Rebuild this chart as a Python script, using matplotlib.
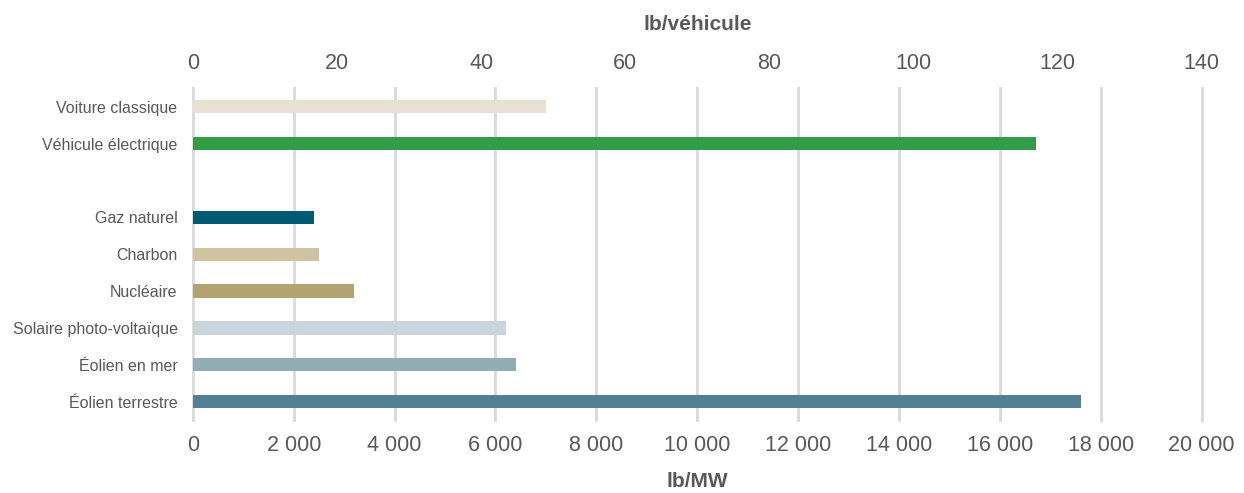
import numpy as np
import matplotlib.pyplot as plt
from matplotlib.ticker import FuncFormatter

plt.rcParams['font.family'] = ['Liberation Sans', 'DejaVu Sans']

# vehicles -> top axis (lb/vehicule)
vehicle_labels = ['Voiture classique', 'Véhicule électrique']
vehicle_values = [49, 117]
vehicle_colors = ['#e8e0d4', '#339c47']

# power sources -> bottom axis (lb/MW)
energy_labels = ['Gaz naturel', 'Charbon', 'Nucléaire', 'Solaire photo-voltaïque',
                 'Éolien en mer', 'Éolien terrestre']
energy_values = [2400, 2500, 3200, 6200, 6400, 17600]
energy_colors = ['#005a73', '#cfc3a1', '#b3a272', '#c8d5dc', '#92adb8', '#527f93']

text_col = '#595959'
grid_col = '#d9d9d9'

fig = plt.figure(figsize=(12.44, 4.93), dpi=100)
ax = fig.add_axes([0.155, 0.148, 0.811, 0.673])
ax2 = ax.twiny()

# row positions: vehicles, one empty row, then energy sources
veh_pos = np.arange(len(vehicle_labels))
en_pos = np.arange(len(energy_labels)) + len(vehicle_labels) + 1
h = 0.36

ax.barh(en_pos, energy_values, height=h, color=energy_colors, zorder=3)
ax2.barh(veh_pos, vehicle_values, height=h, color=vehicle_colors, zorder=3)

ax.set_xlim(0, 20000)
ax2.set_xlim(0, 140)
ax.set_ylim(en_pos[-1] + 0.5, -0.5)

ax.set_xticks(np.arange(0, 20001, 2000))
ax.xaxis.set_major_formatter(FuncFormatter(lambda v, p: f'{int(v):,}'.replace(',', ' ')))
ax2.set_xticks(np.arange(0, 141, 20))

ax.set_yticks(list(veh_pos) + list(en_pos))
ax.set_yticklabels(vehicle_labels + energy_labels)

ax.grid(axis='x', color=grid_col, linewidth=2, zorder=0)
ax.set_axisbelow(True)
for gl in ax.get_xgridlines():
    gl.set_clip_on(False)

for a in (ax, ax2):
    for s in a.spines.values():
        s.set_visible(False)
    a.tick_params(length=0, colors=text_col)

ax.tick_params(axis='x', labelsize=15.5, pad=11)
ax2.tick_params(axis='x', labelsize=15.5, pad=10)
ax.tick_params(axis='y', labelsize=11.5, pad=11)

ax.set_xlabel('lb/MW', fontsize=15, fontweight='bold', color=text_col, labelpad=11)
ax2.set_xlabel('lb/véhicule', fontsize=15, fontweight='bold', color=text_col, labelpad=17)

fig.savefig('out.png', dpi=100)
